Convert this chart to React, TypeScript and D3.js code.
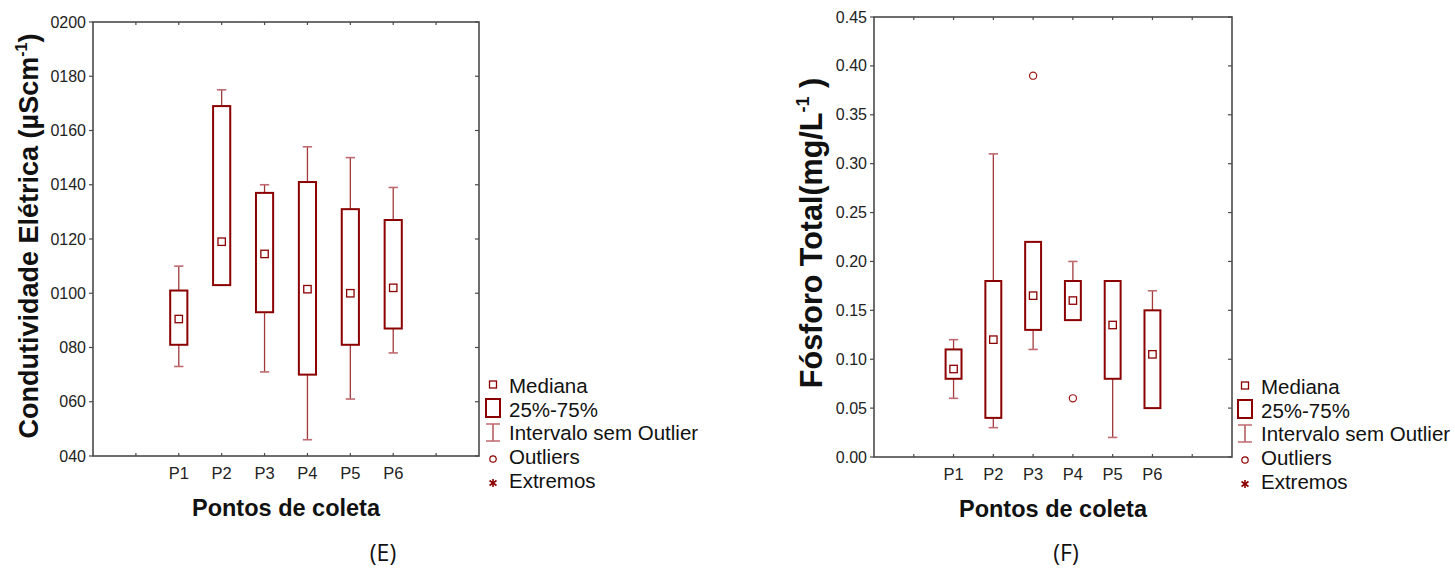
import * as d3 from "d3";

// categories shared by both panels
const categories = ["P1", "P2", "P3", "P4", "P5", "P6"];

// (E) condutividade eletrica
const condMin = [73, 103, 71, 46, 61, 78];
const condQ1 = [81, 103, 93, 70, 81, 87];
const condMed = [90.5, 119, 114.5, 101.5, 100, 102];
const condQ3 = [101, 169, 137, 141, 131, 127];
const condMax = [110, 175, 140, 154, 150, 139];
const condTicks = [40, 60, 80, 100, 120, 140, 160, 180, 200];
const condTickLabels = ["040", "060", "080", "0100", "0120", "0140", "0160", "0180", "0200"];

// (F) fosforo total
const fosMin = [0.06, 0.03, 0.11, 0.14, 0.02, 0.05];
const fosQ1 = [0.08, 0.04, 0.13, 0.14, 0.08, 0.05];
const fosMed = [0.09, 0.12, 0.165, 0.16, 0.135, 0.105];
const fosQ3 = [0.11, 0.18, 0.22, 0.18, 0.18, 0.15];
const fosMax = [0.12, 0.31, 0.22, 0.2, 0.18, 0.17];
const fosOutCats = ["P3", "P4"];
const fosOutVals = [0.39, 0.06];
const fosTicks = [0, 0.05, 0.1, 0.15, 0.2, 0.25, 0.3, 0.35, 0.4, 0.45];
const fosTickLabels = ["0.00", "0.05", "0.10", "0.15", "0.20", "0.25", "0.30", "0.35", "0.40", "0.45"];

const legendLabels = ["Mediana", "25%-75%", "Intervalo sem Outlier", "Outliers", "Extremos"];

const FONT = "'Liberation Sans', Arial, sans-serif";
const BOX = "#8b0000";
const WHISK = "#a23a3c";
const CAP = "#bf6a6e";
const FRAME = "#4a4a4a";

const Legend = ({ x, y }) => {
  const row = 23.7;
  const tx = x + 16;
  const ay = y + 97;
  return (
    <g fontFamily={FONT} fontSize={20.5} fill="#111">
      <rect x={x - 3.5} y={y - 5} width={7} height={7} fill="#fff" stroke={BOX} strokeWidth={1.3} />
      <rect x={x - 7} y={y + 13} width={14} height={18} fill="#fff" stroke={BOX} strokeWidth={2} />
      <line x1={x} x2={x} y1={y + 38} y2={y + 55} stroke={WHISK} strokeWidth={1.3} />
      <line x1={x - 7} x2={x + 7} y1={y + 38} y2={y + 38} stroke={CAP} strokeWidth={1.5} />
      <line x1={x - 7} x2={x + 7} y1={y + 55} y2={y + 55} stroke={CAP} strokeWidth={1.5} />
      <circle cx={x} cy={y + 73} r={3.2} fill="#fff" stroke={BOX} strokeWidth={1.2} />
      <g stroke={BOX} strokeWidth={1.6}>
        <line x1={x} x2={x} y1={ay - 4} y2={ay + 4} />
        <line x1={x - 3.5} x2={x + 3.5} y1={ay - 2.5} y2={ay + 2.5} />
        <line x1={x - 3.5} x2={x + 3.5} y1={ay + 2.5} y2={ay - 2.5} />
      </g>
      {legendLabels.map((t, i) => (
        <text key={t} x={tx} y={y + 7 + i * row}>{t}</text>
      ))}
    </g>
  );
};

const BoxPanel = ({ left, right, top, bottom, domain, ticks, tickLabels, mins, q1s, meds, q3s, maxs, outCats, outVals }) => {
  const x = d3.scaleLinear().domain([0, 9]).range([left, right]);
  const y = d3.scaleLinear().domain(domain).range([bottom, top]);
  const step = x(1) - x(0);
  const bw = step * 0.4;
  const cw = 9.3;
  const xTicks = d3.range(1, 9);
  const pos = (i) => x(i + 2);

  return (
    <g>
      {/* frame */}
      <rect x={left} y={top} width={right - left} height={bottom - top} fill="none" stroke={FRAME} strokeWidth={1.6} />
      {xTicks.map((t) => (
        <g key={t} stroke={FRAME} strokeWidth={1.2}>
          <line x1={x(t)} x2={x(t)} y1={top} y2={top + 3} />
          <line x1={x(t)} x2={x(t)} y1={bottom} y2={bottom - 3} />
        </g>
      ))}
      {ticks.map((t, i) => (
        <g key={t}>
          <line x1={left - 4} x2={left} y1={y(t)} y2={y(t)} stroke={FRAME} strokeWidth={1.2} />
          <line x1={right - 4} x2={right} y1={y(t)} y2={y(t)} stroke={FRAME} strokeWidth={1.2} />
          <text x={left - 7} y={y(t) + 5.5} textAnchor="end" fontFamily={FONT} fontSize={16} fill="#222">
            {tickLabels[i]}
          </text>
        </g>
      ))}
      {categories.map((c, i) => (
        <text key={c} x={pos(i)} y={bottom + 23} textAnchor="middle" fontFamily={FONT} fontSize={16.5} fill="#222">
          {c}
        </text>
      ))}

      {/* boxes */}
      {categories.map((c, i) => {
        const cx = pos(i);
        return (
          <g key={c}>
            {maxs[i] > q3s[i] && (
              <g>
                <line x1={cx} x2={cx} y1={y(q3s[i])} y2={y(maxs[i])} stroke={WHISK} strokeWidth={1.3} />
                <line x1={cx - cw / 2} x2={cx + cw / 2} y1={y(maxs[i])} y2={y(maxs[i])} stroke={CAP} strokeWidth={1.6} />
              </g>
            )}
            {mins[i] < q1s[i] && (
              <g>
                <line x1={cx} x2={cx} y1={y(q1s[i])} y2={y(mins[i])} stroke={WHISK} strokeWidth={1.3} />
                <line x1={cx - cw / 2} x2={cx + cw / 2} y1={y(mins[i])} y2={y(mins[i])} stroke={CAP} strokeWidth={1.6} />
              </g>
            )}
            <rect
              x={cx - bw / 2}
              y={y(q3s[i])}
              width={bw}
              height={y(q1s[i]) - y(q3s[i])}
              fill="#fff"
              stroke={BOX}
              strokeWidth={2}
            />
            <rect x={cx - 3.7} y={y(meds[i]) - 3.7} width={7.4} height={7.4} fill="#fff" stroke={BOX} strokeWidth={1.3} />
          </g>
        );
      })}
      {(outCats || []).map((c, i) => (
        <circle
          key={c + i}
          cx={pos(categories.indexOf(c))}
          cy={y(outVals[i])}
          r={3.6}
          fill="#fff"
          stroke="#a01818"
          strokeWidth={1.2}
        />
      ))}
      <text x={(left + right) / 2} y={bottom + 60} textAnchor="middle" fontFamily={FONT} fontSize={23.5} fontWeight="bold" fill="#111">
        Pontos de coleta
      </text>
    </g>
  );
};

export default function App() {
  return (
    <svg width={1455} height={568} style={{ position: "absolute", left: 0, top: 0, background: "#fff" }}>
      <BoxPanel
        left={93}
        right={479}
        top={22}
        bottom={456}
        domain={[40, 200]}
        ticks={condTicks}
        tickLabels={condTickLabels}
        mins={condMin}
        q1s={condQ1}
        meds={condMed}
        q3s={condQ3}
        maxs={condMax}
      />
      <text
        transform="translate(38,236) rotate(-90)"
        textAnchor="middle"
        fontFamily={FONT}
        fontSize={27}
        fontWeight="bold"
        fill="#111"
      >
        Condutividade Elétrica (µScm
        <tspan fontSize={16} dy={-11}>-1</tspan>
        <tspan dy={11}>)</tspan>
      </text>
      <Legend x={493} y={386} />

      <BoxPanel
        left={874}
        right={1232}
        top={17}
        bottom={457}
        domain={[0, 0.45]}
        ticks={fosTicks}
        tickLabels={fosTickLabels}
        mins={fosMin}
        q1s={fosQ1}
        meds={fosMed}
        q3s={fosQ3}
        maxs={fosMax}
        outCats={fosOutCats}
        outVals={fosOutVals}
      />
      <text
        transform="translate(822,233) rotate(-90)"
        textAnchor="middle"
        fontFamily={FONT}
        fontSize={30.5}
        fontWeight="bold"
        fill="#111"
      >
        Fósforo Total(mg/L
        <tspan fontSize={18} dy={-13}>-1</tspan>
        <tspan dy={13}> )</tspan>
      </text>
      <Legend x={1245} y={387} />

      <text x={383} y={561} textAnchor="middle" fontFamily="'Open Sans', sans-serif" fontSize={23} fill="#111">(E)</text>
      <text x={1066} y={561} textAnchor="middle" fontFamily="'Open Sans', sans-serif" fontSize={23} fill="#111">(F)</text>
    </svg>
  );
}
